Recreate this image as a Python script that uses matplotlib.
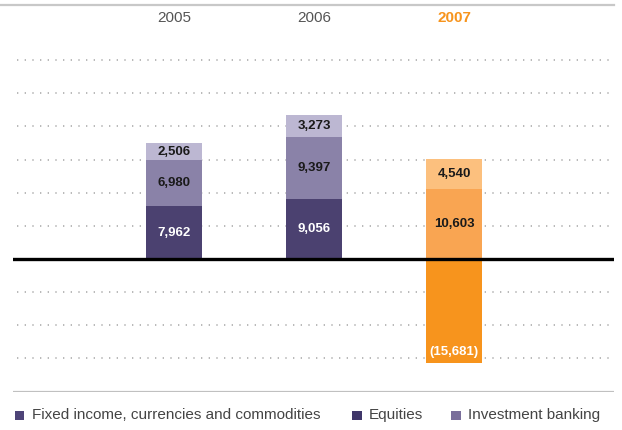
import matplotlib
matplotlib.use("Agg")
import matplotlib.pyplot as plt
from matplotlib.patches import Rectangle
import numpy as np

plt.rcParams['font.family'] = ['Liberation Sans', 'DejaVu Sans']

years = ["2005", "2006", "2007"]
ficc = [7962, 9056, -15681]
equities = [6980, 9397, 10603]
ibanking = [2506, 3273, 4540]
labels_ficc = ["7,962", "9,056", "(15,681)"]
labels_eq = ["6,980", "9,397", "10,603"]
labels_ib = ["2,506", "3,273", "4,540"]
series_names = ["Fixed income, currencies and commodities", "Equities", "Investment banking"]

purple = ["#4b4170", "#8a82a8", "#bcb7d2"]
orange = ["#f7941d", "#f9a552", "#fcc07e"]
legend_colors = ["#4e4478", "#40376a", "#7a6f9b"]

W, H = 622, 430
fig = plt.figure(figsize=(W/100, H/100), dpi=100)
ax = fig.add_axes([13/W, 1-392/H, 601/W, 387/H])

x = np.arange(len(years))
xl = ((13-174)/140, (614-174)/140)
ax.set_xlim(*xl)
ax.set_ylim(-(392-259)/6.63*1000, (259-5)/6.63*1000)

# gridlines
for gy in [-15000, -10000, -5000, 5000, 10000, 15000, 20000, 25000, 30000]:
    ax.plot([(17-174)/140, (612-174)/140], [gy, gy], color="#adadad", lw=1.2,
            linestyle=(0, (0.8, 3.8)), zorder=1)

bw = 0.4
for i in range(len(years)):
    cols = orange if i == 2 else purple
    f = ficc[i]
    ax.bar(x[i], f, bw, bottom=0, color=cols[0], zorder=2)
    eb = max(f, 0)
    ax.bar(x[i], equities[i], bw, bottom=eb, color=cols[1], zorder=2)
    ax.bar(x[i], ibanking[i], bw, bottom=eb + equities[i], color=cols[2], zorder=2)
    # labels
    if f > 0:
        ax.text(x[i], f/2, labels_ficc[i], ha="center", va="center", color="white",
                fontsize=9.5, fontweight="bold", zorder=3)
    else:
        ax.text(x[i], f + 800, labels_ficc[i], ha="center", va="bottom", color="white",
                fontsize=9.5, fontweight="bold", zorder=3)
    ax.text(x[i], eb + equities[i]/2, labels_eq[i], ha="center", va="center",
            color="#1a1a1a", fontsize=9.5, fontweight="bold", zorder=3)
    ax.text(x[i], eb + equities[i] + ibanking[i]/2, labels_ib[i], ha="center", va="center",
            color="#1a1a1a", fontsize=9.5, fontweight="bold", zorder=3)
    # year labels
    ycol = "#f7941d" if i == 2 else "#555555"
    ax.text(x[i], (259-18)/6.63*1000, years[i], ha="center", va="center", color=ycol,
            fontsize=11, fontweight="bold" if i == 2 else "normal", zorder=3)

ax.axhline(0, color="black", lw=2.4, zorder=4)
ytop = ax.get_ylim()[1]
ax.plot([(0-174)/140, xl[1]], [ytop, ytop], color="#c8c8c8", lw=1.6, zorder=4, clip_on=False)
ax.axhline(ax.get_ylim()[0], color="#c0c0c0", lw=1.6, zorder=4)

for s in ax.spines.values():
    s.set_visible(False)
ax.set_xticks([])
ax.set_yticks([])
ax.patch.set_alpha(0)

# legend (manual placement in figure pixels)
sq_x = [15, 352, 451]
for sx, c, name in zip(sq_x, legend_colors, series_names):
    fig.patches.append(Rectangle((sx/W, 1-420/H), 9.5/W, 9.5/H, transform=fig.transFigure,
                                 facecolor=c, edgecolor="none"))
    fig.text((sx+17)/W, 1-415/H, name, ha="left", va="center", fontsize=11,
             color="#444444")

fig.savefig("out.png", dpi=100)
